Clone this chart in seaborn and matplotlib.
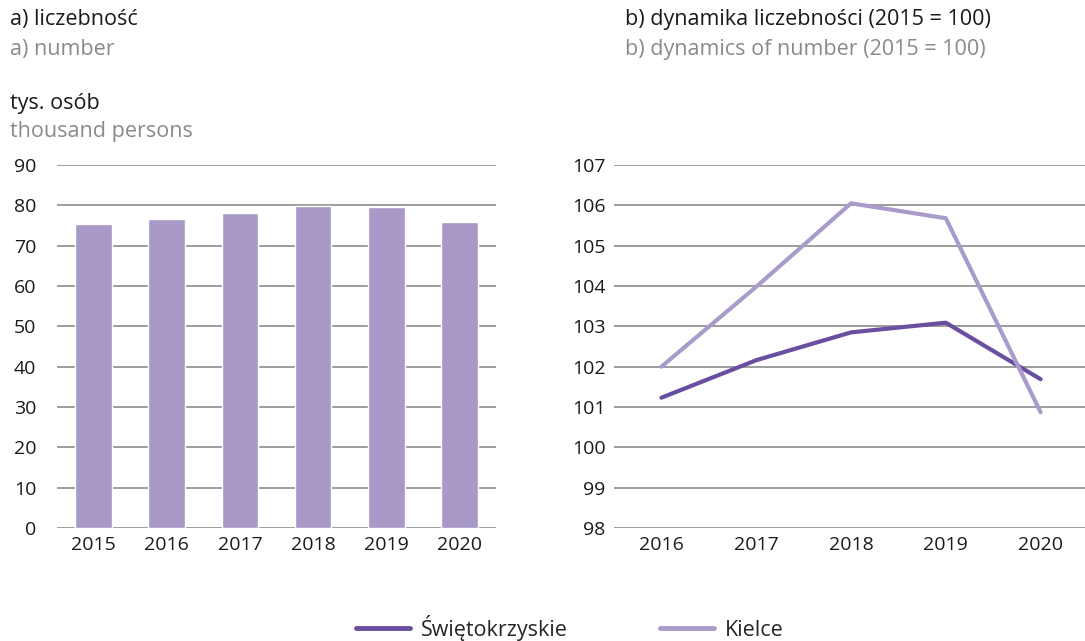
import pandas as pd
import numpy as np
import seaborn as sns
import matplotlib
import matplotlib.pyplot as plt
matplotlib.use('Agg')

#%% data
years_a = ["2015", "2016", "2017", "2018", "2019", "2020"]
number = [75.3, 76.6, 78.2, 79.9, 79.5, 75.9]

years_b = ["2016", "2017", "2018", "2019", "2020"]
swietokrzyskie = [101.23, 102.16, 102.85, 103.09, 101.69]
kielce = [102.0, 103.98, 106.05, 105.68, 100.87]

#%% style
sns.set_theme(style="white")
plt.rcParams['font.family'] = ['Open Sans', 'DejaVu Sans']
bar_color = "#A899C8"
dark = "#6A4FA0"
light = "#A99CCB"
grey_txt = "#8A8A8A"
grid_c = "#8C8C8C"
fs = 14          # tick labels
fs_t = 15.5      # titles and legend

W, H = 1085, 641
fig = plt.figure(figsize=(W/100, H/100), dpi=100)

def px_axes(x0, y0, x1, y1):
    return fig.add_axes([x0/W, 1 - y1/H, (x1-x0)/W, (y1-y0)/H])

#%% a) bars
ax1 = px_axes(57, 165, 496, 528)
df_a = pd.DataFrame({"year": years_a, "value": number})
sns.barplot(data=df_a, x="year", y="value", color=bar_color, width=0.5,
            saturation=1, ax=ax1, zorder=3)
ax1.set_ylim(0, 90)
ax1.set_yticks(np.arange(0, 91, 10))
ax1.set_xlim(-0.5, len(years_a) - 0.5)

#%% b) lines
ax2 = px_axes(614, 165, 1088, 528)
df_b = pd.DataFrame({
    "year": years_b * 2,
    "value": swietokrzyskie + kielce,
    "region": ["Świętokrzyskie"] * len(years_b) + ["Kielce"] * len(years_b),
})
sns.lineplot(data=df_b, x="year", y="value", hue="region",
             palette={"Świętokrzyskie": dark, "Kielce": light},
             linewidth=3, ax=ax2, zorder=3, legend=False)
ax2.set_ylim(98, 107)
ax2.set_yticks(np.arange(98, 108, 1))
ax2.set_xlim(-0.5, len(years_b) - 0.5)

for ax, ypad in ((ax1, 15), (ax2, 6)):
    ax.set_xlabel("")
    ax.set_ylabel("")
    for s in ax.spines.values():
        s.set_visible(False)
    ax.yaxis.grid(True, color=grid_c, linewidth=1.2)
    ax.set_axisbelow(True)
    ax.tick_params(axis="both", length=0, labelsize=fs, colors="#1a1a1a")
    ax.tick_params(axis="y", pad=ypad)
    ax.tick_params(axis="x", pad=6)

#%% texts
fig.text(10/W, 1 - 20/H, "a) liczebność", fontsize=fs_t, va="center", color="#1a1a1a")
fig.text(10/W, 1 - 50/H, "a) number", fontsize=fs_t, va="center", color=grey_txt)
fig.text(10/W, 1 - 104/H, "tys. osób", fontsize=fs_t, va="center", color="#1a1a1a")
fig.text(10/W, 1 - 132/H, "thousand persons", fontsize=fs_t, va="center", color=grey_txt)
fig.text(625/W, 1 - 20/H, "b) dynamika liczebności (2015 = 100)", fontsize=fs_t,
         va="center", color="#1a1a1a")
fig.text(625/W, 1 - 50/H, "b) dynamics of number (2015 = 100)", fontsize=fs_t,
         va="center", color=grey_txt)

#%% legend
fig.legend(handles=[plt.Line2D([], [], color=dark, lw=3.5),
                    plt.Line2D([], [], color=light, lw=3.5)],
           labels=["Świętokrzyskie", "Kielce"],
           loc="center", bbox_to_anchor=(570/W, 1 - 628/H), ncol=2,
           frameon=False, fontsize=fs_t, handlelength=2.5, columnspacing=4.3,
           handletextpad=0.5)

fig.savefig("out.png", dpi=100)
